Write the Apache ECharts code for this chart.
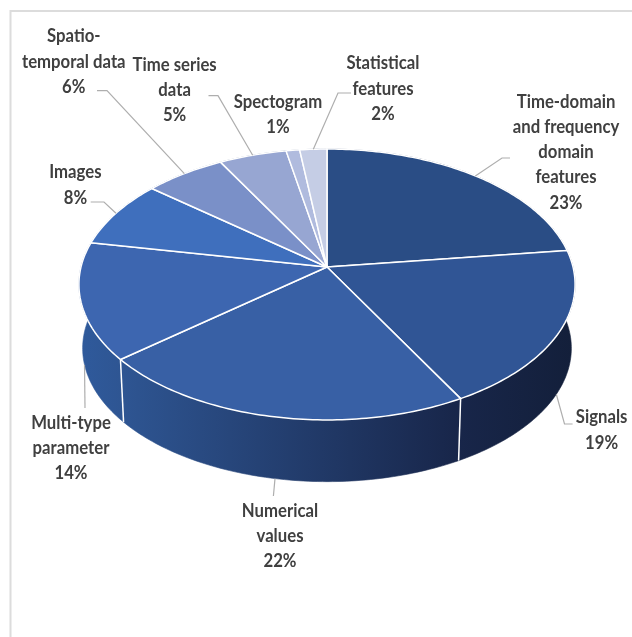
<!DOCTYPE html>
<html><head><meta charset="utf-8">
<style>html,body{margin:0;padding:0;background:#fff}#c{width:632px;height:637px}</style>
<script src="https://cdn.jsdelivr.net/npm/echarts@6/dist/echarts.min.js"></script>
</head><body><div id="c"></div>
<script>
// ---- data ----
const categories = ['Time-domain\nand frequency\ndomain\nfeatures','Signals','Numerical\nvalues','Multi-type\nparameter','Images','Spatio-\ntemporal data','Time series\ndata','Spectogram','Statistical\nfeatures'];
const shares = [23,19,22,14,8,6,5,1,2];

// ---- style and layout ----
const sliceColors = ['#2a4d85','#305595','#3860a5','#3d66b0','#3f6fbd','#7a90c8','#97a6d2','#b0bbde','#c5cde5'];
const wallStops = [[0,'#2f5a9c'],[0.09,'#2e5592'],[0.76,'#18264a'],[1,'#131f3a']];
const labelCenters = [[566,152],[601.6,430],[280,536],[71,448],[75.4,185],[73.8,61.5],[174.6,90],[278,114.5],[383,88.5]];
const leaderKnees = [[[502,158],[510,158]],[[564.5,424],[572.6,424]],[[273.4,496]],[[85,408]],[[104,202],[90.7,202]],[[107,90.7],[97,90.7]],[[218,95.7],[208.5,95.7]],null,[[338,93],[351,93]]];
const geo = {cx:327, ay:267, a:246, b:133.2, k:0.129, drop:64, shrink:0.985};

const total = shares.reduce((s,v)=>s+v,0);
const starts = []; { let acc=0; shares.forEach(v=>{starts.push(acc); acc+=v;}); }
const angleOf = v => v/total*Math.PI*2;
function rim(t, lower){
  const p = 1/(1+geo.k*Math.cos(t));
  const x = geo.a*Math.sin(t)*p, y = -geo.b*Math.cos(t)*p;
  return lower ? [geo.cx+x*geo.shrink, geo.ay+geo.drop+y*geo.shrink] : [geo.cx+x, geo.ay+y];
}
function arc(t0,t1,lower){
  const n = Math.max(2,Math.ceil((t1-t0)/(Math.PI/180)));
  const out=[]; for(let i=0;i<=n;i++) out.push(rim(t0+(t1-t0)*i/n,lower));
  return out;
}
function span(i){ return [angleOf(starts[i]), angleOf(starts[i]+shares[i])]; }

const wallFill = new echarts.graphic.LinearGradient(79,0,575,0,wallStops.map(s=>({offset:s[0],color:s[1]})),true);

function renderWall(params){
  const [t0,t1] = span(params.dataIndex);
  const pts = arc(t0,t1,false).concat(arc(t0,t1,true).reverse());
  const kids = [{type:'polygon',shape:{points:pts},style:{fill:wallFill,stroke:wallFill,lineWidth:0.6}}];
  if(Math.cos(t0)<0){
    kids.push({type:'line',z2:5,shape:{x1:rim(t0,false)[0],y1:rim(t0,false)[1],x2:rim(t0,true)[0],y2:rim(t0,true)[1]},style:{stroke:'#ffffff',lineWidth:1.5}});
  }
  return {type:'group',children:kids};
}
function renderTop(params){
  const i=params.dataIndex, [t0,t1]=span(i);
  const pts=[[geo.cx,geo.ay]].concat(arc(t0,t1,false));
  return {type:'polygon',shape:{points:pts},style:{fill:sliceColors[i],stroke:'#ffffff',lineWidth:1.5,lineJoin:'round'}};
}
function renderNote(params){
  const i=params.dataIndex, [t0,t1]=span(i), mid=(t0+t1)/2;
  const kids=[{type:'text',x:labelCenters[i][0],y:labelCenters[i][1],scaleX:0.88,
    style:{text:categories[i]+'\n'+shares[i]+'%',x:0,y:0,align:'center',verticalAlign:'middle',
    font:'bold 19px Lato,"Open Sans",sans-serif',lineHeight:25.3,fill:'#404040'}}];
  if(leaderKnees[i]){
    const start=rim(mid,Math.cos(mid)<0);
    kids.push({type:'polyline',shape:{points:[start].concat(leaderKnees[i])},style:{fill:'none',stroke:'#aeaeae',lineWidth:1.2}});
  }
  return {type:'group',children:kids};
}
const rows = shares.map(v=>[v]);
const chart = echarts.init(document.getElementById('c'),null,{renderer:'canvas'});
chart.setOption({
  animation:false,
  backgroundColor:'#ffffff',
  graphic:[{type:'rect',silent:true,z:0,shape:{x:10.5,y:11,width:800,height:800},style:{fill:'none',stroke:'#dcdcdc',lineWidth:2}}],
  series:[
    {type:'custom',coordinateSystem:'none',name:'walls',z:1,silent:true,data:rows,renderItem:renderWall},
    {type:'custom',coordinateSystem:'none',name:'top',z:2,silent:true,data:rows,renderItem:renderTop},
    {type:'custom',coordinateSystem:'none',name:'notes',z:3,silent:true,data:rows,renderItem:renderNote}
  ]
});
</script></body></html>
